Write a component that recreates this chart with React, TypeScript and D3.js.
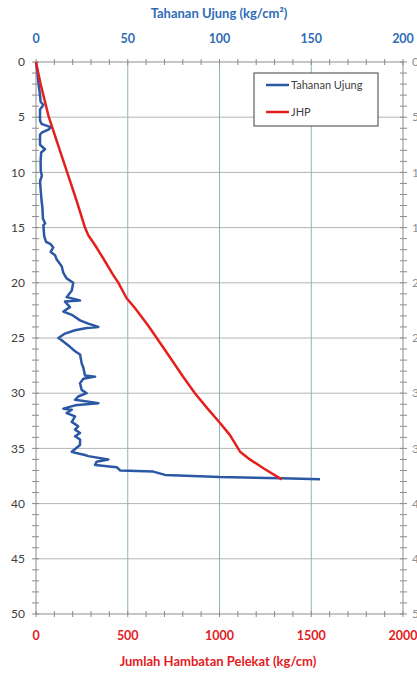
import React from "react";
import * as d3 from "d3";

// Tahanan Ujung (kg/cm²) vs depth
const tuDepth = [0, 1, 2, 3.0, 3.6, 3.9, 4.3, 5.3, 5.6, 5.9, 6.1, 6.4, 6.6, 7.5, 7.9, 8.2, 9.0, 9.9, 10.3, 10.8, 11.5, 12.5, 13.2, 14.2, 14.6, 14.8, 15.8, 16.3, 16.5, 16.8, 17.2, 17.5, 17.9, 18.5, 19.1, 19.6, 20.0, 20.7, 21.3, 21.6, 21.7, 22.2, 22.6, 22.9, 23.4, 23.7, 24.0, 24.1, 24.3, 24.6, 25.0, 25.2, 25.8, 26.2, 26.5, 27.3, 27.7, 28.4, 28.5, 28.7, 29.1, 29.7, 30.0, 30.3, 30.6, 30.9, 31.1, 31.4, 31.5, 31.8, 32.1, 32.6, 33.0, 33.3, 33.6, 33.9, 34.2, 34.7, 35.3, 35.4, 35.6, 35.7, 36.0, 36.2, 36.5, 36.7, 37.0, 37.1, 37.4, 37.6, 37.7, 37.8];
const tuValue = [0, 0.8, 1.4, 2.2, 2.5, 4, 2.2, 2.2, 3, 8, 7, 3.1, 2.2, 2.2, 4.9, 2.8, 2.5, 2.6, 3.2, 2.2, 2.5, 3, 3.5, 3.8, 5, 4, 4.5, 5.5, 8, 9.4, 8, 10.4, 11.3, 14, 14.9, 16.7, 20.3, 19.5, 16.7, 24, 15.8, 18.5, 14.9, 19.5, 24, 28.5, 34, 27.6, 21.3, 15.8, 12.2, 14, 18.5, 21.3, 24, 24.9, 25.8, 26.7, 32.2, 25.8, 24, 24.9, 27.6, 23, 21.3, 34, 21.3, 14.9, 19.5, 16.7, 21.3, 19.5, 23, 21.3, 24, 21.3, 24, 24, 19.5, 21.3, 26.7, 28.5, 39.4, 33, 32.2, 44, 45.8, 63.9, 70.3, 100.3, 133.9, 154.8];

// JHP (kg/cm) vs depth
const jhpDepth = [0, 2, 5, 8, 10, 12.5, 15, 15.7, 16.6, 17.8, 19.3, 20, 21.4, 22.3, 23.8, 25, 26.7, 28.4, 30, 31.4, 32.7, 33.8, 35.3, 35.9, 36.8, 37.8];
const jhpValue = [0, 25, 70, 130, 170, 220, 267, 285, 322, 367, 421, 449, 494, 540, 608, 658, 728, 797, 866, 935, 1003, 1057, 1112, 1157, 1239, 1339];

const topTicks = [0, 50, 100, 150, 200];
const bottomTicks = [0, 500, 1000, 1500, 2000];
const depthTicks = [0, 5, 10, 15, 20, 25, 30, 35, 40, 45, 50];

const W = 417;
const H = 673;
const L = 36, R = 403, T = 62, B = 614;

export default function App() {
  const xTop = d3.scaleLinear().domain([0, 200]).range([L, R]);
  const xBot = d3.scaleLinear().domain([0, 2000]).range([L, R]);
  const y = d3.scaleLinear().domain([0, 50]).range([T, B]);

  const tuLine = d3.line<number>().x((_, i) => xTop(tuValue[i])).y((_, i) => y(tuDepth[i]));
  const jhpLine = d3.line<number>().x((_, i) => xBot(jhpValue[i])).y((_, i) => y(jhpDepth[i]));

  const minorY = d3.range(0, 51, 1);
  const minorX = d3.range(0, 201, 10);
  const font = "Lato, 'Open Sans', sans-serif";
  const blue = "#2F6DB5";
  const red = "#E3201E";
  const axisCol = "#8C8C8C";

  return (
    <svg width={W} height={H} style={{ position: "absolute", left: 0, top: 0 }} fontFamily={font}>
      <rect x={0} y={0} width={W} height={H} fill="#fff" />
      {/* horizontal gridlines */}
      {depthTicks.slice(1, -1).map((d) => (
        <line key={"hg" + d} x1={L} x2={R} y1={y(d)} y2={y(d)} stroke="#B4B4B4" strokeWidth={1} />
      ))}
      {/* vertical gridlines */}
      {topTicks.slice(1, -1).map((v) => (
        <line key={"vg" + v} x1={xTop(v)} x2={xTop(v)} y1={T} y2={B} stroke="#8DB4BA" strokeWidth={1} />
      ))}
      {/* axes */}
      <line x1={L} x2={R} y1={T} y2={T} stroke={axisCol} />
      <line x1={L} x2={R} y1={B} y2={B} stroke={axisCol} />
      <line x1={L} x2={L} y1={T} y2={B} stroke={axisCol} />
      <line x1={R} x2={R} y1={T} y2={B} stroke={axisCol} />
      {minorY.map((d) => (
        <g key={"ty" + d}>
          <line x1={L - 4} x2={L + 3} y1={y(d)} y2={y(d)} stroke={axisCol} />
          <line x1={R - 3} x2={R + 4} y1={y(d)} y2={y(d)} stroke={axisCol} />
        </g>
      ))}
      {minorX.map((v) => (
        <g key={"tx" + v}>
          <line x1={xTop(v)} x2={xTop(v)} y1={T - 3} y2={T + 3} stroke={axisCol} />
          <line x1={xTop(v)} x2={xTop(v)} y1={B - 3} y2={B + 3} stroke={axisCol} />
        </g>
      ))}
      {/* left labels */}
      {depthTicks.map((d) => (
        <text key={"ly" + d} x={25} y={y(d)} dy="0.35em" textAnchor="end" fontSize={12} fill="#404040">
          {d}
        </text>
      ))}
      {/* right labels (clipped by window edge, as in the reference) */}
      {depthTicks.map((d) => (
        <text key={"ry" + d} x={412} y={y(d)} dy="0.35em" textAnchor="start" fontSize={12} fill="#909090">
          {d}
        </text>
      ))}
      {/* top labels */}
      {topTicks.map((v) => (
        <text key={"tt" + v} x={xTop(v)} y={43} textAnchor="middle" fontSize={12.5} fontWeight="bold" fill={blue}>
          {v}
        </text>
      ))}
      <text x={219} y={18} textAnchor="middle" fontSize={13} fontWeight="bold" fill={blue}>
        Tahanan Ujung (kg/cm²)
      </text>
      {/* bottom labels */}
      {bottomTicks.map((v) => (
        <text key={"bt" + v} x={xBot(v)} y={640} textAnchor="middle" fontSize={12.5} fontWeight="bold" fill={red}>
          {v}
        </text>
      ))}
      <text x={218} y={666} textAnchor="middle" fontSize={13} fontWeight="bold" fill={red}>
        Jumlah Hambatan Pelekat (kg/cm)
      </text>
      {/* series */}
      <path d={tuLine(tuDepth) || ""} fill="none" stroke="#2B58A5" strokeWidth={2.5} strokeLinejoin="round" />
      <path d={jhpLine(jhpDepth) || ""} fill="none" stroke={red} strokeWidth={2.5} strokeLinejoin="round" />
      {/* legend */}
      <rect x={254} y={73} width={124} height={53} fill="#fff" stroke="#404040" strokeWidth={1} />
      <line x1={266} x2={289} y1={85} y2={85} stroke="#2B58A5" strokeWidth={2.5} />
      <text x={291} y={85} dy="0.35em" fontSize={11} fill="#404040">Tahanan Ujung</text>
      <line x1={266} x2={289} y1={112} y2={112} stroke={red} strokeWidth={2.5} />
      <text x={291} y={112} dy="0.35em" fontSize={11} fill="#404040">JHP</text>
    </svg>
  );
}
